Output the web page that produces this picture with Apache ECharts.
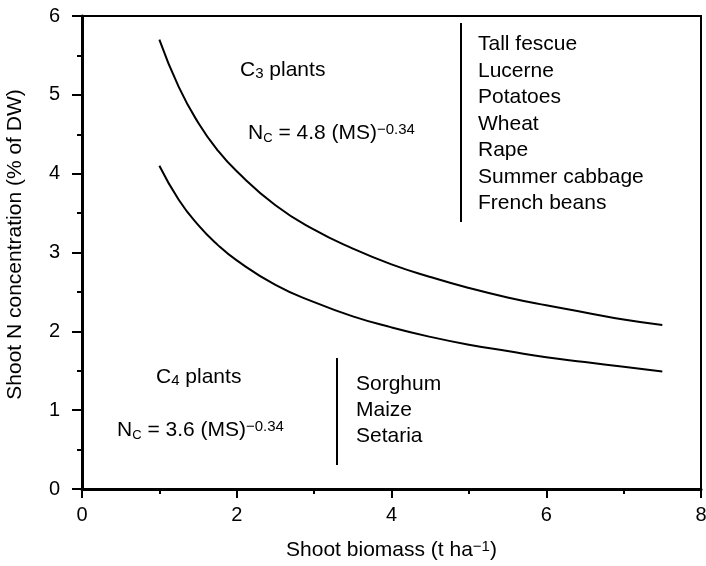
<!DOCTYPE html>
<html>
<head>
<meta charset="utf-8">
<script src="https://cdn.jsdelivr.net/npm/echarts@6/dist/echarts.min.js"></script>
<style>
  html, body { margin: 0; padding: 0; background: #fff; }
  #chart { width: 706px; height: 566px; }
</style>
</head>
<body>
<div id="chart"></div>
<script>
// biomass (t/ha) where the curves were read
const biomass = [1, 1.25, 1.5, 1.75, 2, 2.5, 3, 3.5, 4, 4.5, 5, 5.5, 6, 6.5, 7, 7.5];
// C3 curve, N % of DW
const c3Values = [5.70, 5.10, 4.65, 4.30, 4.03, 3.60, 3.29, 3.05, 2.85, 2.69, 2.55, 2.43, 2.33, 2.24, 2.15, 2.08];
// C4 curve, N % of DW
const c4Values = [4.10, 3.67, 3.35, 3.10, 2.90, 2.59, 2.37, 2.19, 2.05, 1.93, 1.83, 1.75, 1.67, 1.61, 1.55, 1.49];

const c3Crops = ['Tall fescue', 'Lucerne', 'Potatoes', 'Wheat', 'Rape', 'Summer cabbage', 'French beans'];
const c4Crops = ['Sorghum', 'Maize', 'Setaria'];

const FONT = '"Liberation Sans", Arial, Helvetica, sans-serif';
const FS = 21;

const toPairs = (xs, ys) => xs.map((x, i) => [x, ys[i]]);

// rich styles for sub/superscripts
const richStyles = {
  sub: { fontSize: 15, fontFamily: FONT, color: '#000', verticalAlign: 'bottom', padding: [7, 0, 0, 0] },
  subs: { fontSize: 13, fontFamily: FONT, color: '#000', verticalAlign: 'bottom', padding: [7, 0, 0, 0] },
  sup: { fontSize: 15, fontFamily: FONT, color: '#000', verticalAlign: 'top', padding: [0, 0, 8, 0] }
};

function label(x, y, text) {
  return {
    type: 'text', left: x, top: y,
    style: { text: text, rich: richStyles, font: FS + 'px ' + FONT, fill: '#000' }
  };
}

function list(x, y0, items, step) {
  return items.map((t, i) => ({
    type: 'text', left: x, top: y0 + i * step,
    style: { text: t, font: FS + 'px ' + FONT, fill: '#000' }
  }));
}

function vline(x, y1, y2) {
  return {
    type: 'line',
    shape: { x1: x, y1: y1, x2: x, y2: y2 },
    style: { stroke: '#000', lineWidth: 2 }
  };
}

const chart = echarts.init(document.getElementById('chart'));

chart.setOption({
  backgroundColor: '#fff',
  animation: false,
  textStyle: { fontFamily: FONT },
  grid: {
    left: 82, right: 5, top: 16, bottom: 77,
    outerBoundsMode: 'none', containLabel: false,
    show: true, borderColor: '#000', borderWidth: 2, backgroundColor: 'transparent'
  },
  xAxis: {
    type: 'value', min: 0, max: 8, interval: 2,
    name: 'Shoot biomass (t ha{sup|−1})',
    nameLocation: 'middle', nameGap: 50,
    nameTextStyle: { fontSize: FS, color: '#000', fontFamily: FONT, rich: richStyles },
    axisLine: { show: true, lineStyle: { color: '#000', width: 3 } },
    axisTick: { show: true, inside: false, length: 9, lineStyle: { color: '#000', width: 2 } },
    minorTick: { show: true, splitNumber: 2, length: 5, lineStyle: { color: '#000', width: 2 } },
    axisLabel: { fontSize: 20, color: '#000', margin: 16, fontFamily: FONT },
    splitLine: { show: false }
  },
  yAxis: {
    type: 'value', min: 0, max: 6, interval: 1,
    name: 'Shoot N concentration (% of DW)',
    nameLocation: 'middle', nameGap: 56,
    nameTextStyle: { fontSize: FS, color: '#000', fontFamily: FONT, padding: [0, 0, 0, 16] },
    axisLine: { show: true, lineStyle: { color: '#000', width: 3 } },
    axisTick: { show: true, inside: false, length: 10, lineStyle: { color: '#000', width: 2 } },
    minorTick: { show: true, splitNumber: 2, length: 5, lineStyle: { color: '#000', width: 2 } },
    axisLabel: { fontSize: 20, color: '#000', margin: 22, fontFamily: FONT },
    splitLine: { show: false }
  },
  series: [
    {
      name: 'C3', type: 'line', smooth: true, showSymbol: false,
      data: toPairs(biomass, c3Values),
      lineStyle: { color: '#000', width: 2 }
    },
    {
      name: 'C4', type: 'line', smooth: true, showSymbol: false,
      data: toPairs(biomass, c4Values),
      lineStyle: { color: '#000', width: 2 }
    }
  ],
  graphic: [
    label(240, 60, 'C{sub|3} plants'),
    label(248, 122, 'N{subs|C} = 4.8 (MS){sup|−0.34}'),
    vline(461, 23, 222),
    ...list(478, 34, c3Crops, 26.5),
    label(156, 367, 'C{sub|4} plants'),
    label(117, 419, 'N{subs|C} = 3.6 (MS){sup|−0.34}'),
    vline(337, 358, 465),
    ...list(356, 374, c4Crops, 26)
  ]
});
</script>
</body>
</html>
